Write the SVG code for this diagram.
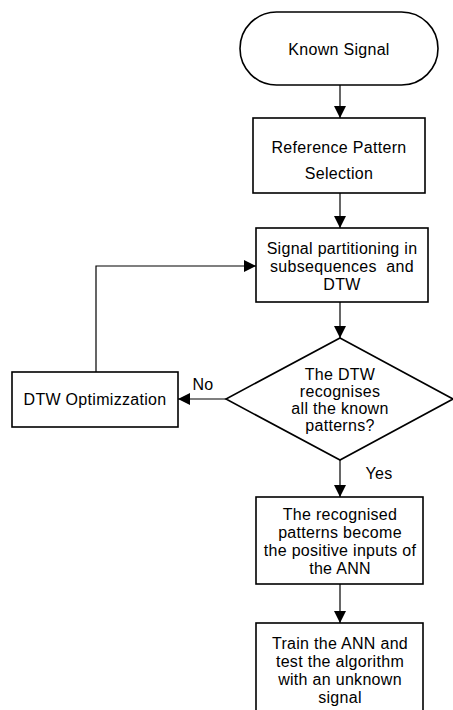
<svg xmlns="http://www.w3.org/2000/svg" width="453" height="710" viewBox="0 0 453 710">
<style>
.n{fill:#fff;stroke:#000;stroke-width:1.6}
.t{font-family:"Liberation Sans",Arial,sans-serif;font-size:16px;letter-spacing:0.3px;fill:#000;text-anchor:middle;white-space:pre}
.c{fill:none;stroke:#000;stroke-width:1.2}
</style>
<defs>
<marker id="a" markerWidth="12" markerHeight="12" refX="12" refY="6" orient="auto" markerUnits="userSpaceOnUse">
<path d="M0,0 L12,6 L0,12 Z" fill="#000"/>
</marker>
</defs>
<rect width="453" height="710" fill="#fff"/>
<g id="connectors">
<line class="c" x1="340" y1="85" x2="340" y2="118" marker-end="url(#a)"/>
<line class="c" x1="340" y1="193" x2="340" y2="228" marker-end="url(#a)"/>
<line class="c" x1="340" y1="302" x2="340" y2="338" marker-end="url(#a)"/>
<line class="c" x1="226" y1="399" x2="178" y2="399" marker-end="url(#a)"/>
<polyline class="c" points="96,372 96,266 256,266" marker-end="url(#a)"/>
<line class="c" x1="340" y1="460" x2="340" y2="497" marker-end="url(#a)"/>
<line class="c" x1="340" y1="584" x2="340" y2="623" marker-end="url(#a)"/>
<text class="t" x="203" y="390">No</text>
<text class="t" x="379" y="479">Yes</text>
</g>
<g id="known-signal">
<rect class="n" x="240" y="12" width="198" height="73" rx="36.5"/>
<text class="t" x="339" y="55">Known Signal</text>
</g>
<g id="reference-pattern">
<rect class="n" x="253" y="118" width="172" height="75"/>
<text class="t" x="339" y="153">Reference Pattern</text>
<text class="t" x="339" y="179">Selection</text>
</g>
<g id="partitioning">
<rect class="n" x="256" y="228" width="172" height="74"/>
<text class="t" x="342" y="254">Signal partitioning in</text>
<text class="t" x="342" y="272">subsequences  and</text>
<text class="t" x="342" y="290">DTW</text>
</g>
<g id="decision">
<polygon class="n" points="340,338 453,399 340,460 226,399"/>
<text class="t" x="340" y="380">The DTW</text>
<text class="t" x="340" y="397">recognises</text>
<text class="t" x="340" y="414">all the known</text>
<text class="t" x="340" y="431">patterns?</text>
</g>
<g id="dtw-opt">
<rect class="n" x="12" y="372" width="166" height="55"/>
<text class="t" x="95" y="405">DTW Optimizzation</text>
</g>
<g id="recognised">
<rect class="n" x="256" y="497" width="167" height="87"/>
<text class="t" x="340" y="520">The recognised</text>
<text class="t" x="340" y="538">patterns become</text>
<text class="t" x="340" y="556">the positive inputs of</text>
<text class="t" x="340" y="574">the ANN</text>
</g>
<g id="train">
<rect class="n" x="256" y="623" width="167" height="95"/>
<text class="t" x="340" y="649">Train the ANN and</text>
<text class="t" x="340" y="667">test the algorithm</text>
<text class="t" x="340" y="685">with an unknown</text>
<text class="t" x="340" y="703">signal</text>
</g>
</svg>
